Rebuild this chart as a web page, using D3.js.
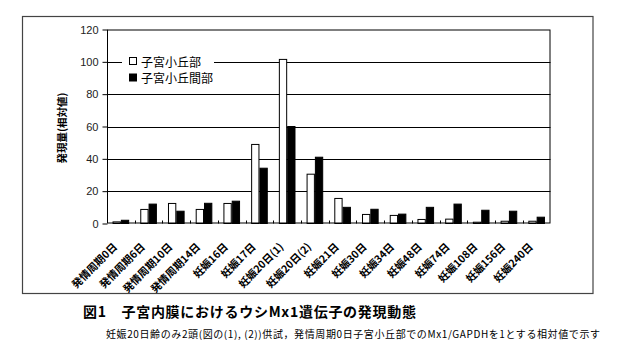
<!DOCTYPE html>
<html><head><meta charset="utf-8">
<script src="https://cdn.jsdelivr.net/npm/d3@7"></script>
<style>
html,body{margin:0;padding:0;background:#fff;}
svg{display:block;font-family:"Noto Sans CJK JP","Noto Sans",sans-serif;}
</style></head>
<body><svg id="chart" width="628" height="358"></svg>
<script>
const categories = ["発情周期0日","発情周期6日","発情周期10日","発情周期14日","妊娠16日","妊娠17日","妊娠20日(1)","妊娠20日(2)","妊娠21日","妊娠30日","妊娠34日","妊娠48日","妊娠74日","妊娠108日","妊娠156日","妊娠240日"];
const seriesNames = ["子宮小丘部","子宮小丘間部"];
const caruncleValues = [1, 8.7, 12.4, 8.7, 12.4, 48.9, 101.5, 30.5, 15.5, 5.6, 5, 2.5, 2.7, 0.8, 1.4, 1.4];
const intercaruncleValues = [2, 12, 7.6, 12.5, 13.8, 34.2, 60, 41, 10, 8.8, 5.8, 10, 12, 8.2, 7.6, 3.9];
const yTicks = [0, 20, 40, 60, 80, 100, 120];
const yTitle = "発現量(相対値)";
const title = "図1　子宮内膜におけるウシMx1遺伝子の発現動態";
const caption = "妊娠20日齢のみ2頭(図の(1), (2))供試，発情周期0日子宮小丘部でのMx1/GAPDHを1とする相対値で示す";

const svg = d3.select("#chart");
const L = 107, R = 550.5, T = 29.5, B = 223.5;

// outer frame
svg.append("rect").attr("x", 22.5).attr("y", 16.5).attr("width", 570.5).attr("height", 277)
  .attr("fill", "none").attr("stroke", "#444").attr("stroke-width", 1.2);

const y = d3.scaleLinear().domain([0, 120]).range([B, T]);
const x0 = d3.scaleBand().domain(categories).range([L, R]).paddingInner(0.4).paddingOuter(0.2);
const xs = d3.scaleBand().domain(seriesNames).range([0, x0.bandwidth()]);
const xOuter = d3.scaleBand().domain(categories).range([L, R]);

// gridlines
svg.append("g").selectAll("line").data(yTicks.filter(d => d > 0 && d < 120)).join("line")
  .attr("x1", L).attr("x2", R).attr("y1", d => Math.round(y(d)) + 0.5).attr("y2", d => Math.round(y(d)) + 0.5)
  .attr("stroke", "#000").attr("stroke-width", 1);

// legend background
svg.append("rect").attr("x", 122).attr("y", 50).attr("width", 92).attr("height", 36).attr("fill", "#fff");

// bars
const rows = categories.map((c, i) => ({c, vals: [caruncleValues[i], intercaruncleValues[i]]}));
const g = svg.append("g");
rows.forEach(r => {
  r.vals.forEach((v, j) => {
    g.append("rect")
      .attr("x", x0(r.c) + xs(seriesNames[j]) + 0.5)
      .attr("y", y(v))
      .attr("width", xs.bandwidth() - 1)
      .attr("height", Math.max(0, B - y(v)))
      .attr("fill", j === 0 ? "#fff" : "#000")
      .attr("stroke", "#000").attr("stroke-width", 1);
  });
});

// plot border
svg.append("rect").attr("x", L + 0.5).attr("y", T + 0.5).attr("width", R - L - 1).attr("height", B - T - 1)
  .attr("fill", "none").attr("stroke", "#000").attr("stroke-width", 1);

// y axis
const yAxis = d3.axisLeft(y).tickValues(yTicks).tickSize(5).tickPadding(4);
const ya = svg.append("g").attr("transform", `translate(${L + 0.5},0)`).call(yAxis);
ya.select(".domain").remove();
ya.selectAll("line").attr("stroke", "#000");
ya.selectAll("text").attr("font-size", 11).attr("fill", "#222").attr("font-family", "Liberation Sans, Arial, sans-serif");

// x axis ticks (inside, between groups)
const xa = svg.append("g");
categories.slice(1).forEach(c => {
  const xx = Math.round(xOuter(c)) + 0.5;
  xa.append("line").attr("x1", xx).attr("x2", xx).attr("y1", B).attr("y2", B - 3).attr("stroke", "#000");
});
// x labels
categories.forEach(c => {
  const cx = xOuter(c) + xOuter.bandwidth() / 2;
  xa.append("text")
    .attr("transform", `translate(${cx - 3},${B + 24}) rotate(-45)`)
    .attr("text-anchor", "end")
    .attr("font-size", 10.5).attr("font-weight", "bold").attr("fill", "#000")
    .text(c);
});

// y title
svg.append("text").attr("transform", `translate(63,128) rotate(-90)`)
  .attr("text-anchor", "middle").attr("dominant-baseline", "middle")
  .attr("font-size", 10.5).attr("font-weight", "bold").text(yTitle);

// legend
const leg = svg.append("g");
seriesNames.forEach((s, i) => {
  const ly = 61 + i * 16.5;
  leg.append("rect").attr("x", 129.5).attr("y", ly - 3.5).attr("width", 7).attr("height", 7)
    .attr("fill", i === 0 ? "#fff" : "#000").attr("stroke", "#000");
  leg.append("text").attr("x", 141).attr("y", ly).attr("dominant-baseline", "central")
    .attr("font-size", 12).attr("fill", "#000").text(s);
});

// title & caption
svg.append("text").attr("x", 83).attr("y", 317).attr("font-size", 14).attr("font-weight", "bold")
  .attr("textLength", 333).attr("lengthAdjust", "spacing")
  .attr("fill", "#000").text(title);
svg.append("text").attr("x", 106).attr("y", 338).attr("font-size", 10)
  .attr("textLength", 494).attr("lengthAdjust", "spacing")
  .attr("fill", "#000").text(caption);
</script>
</body></html>
